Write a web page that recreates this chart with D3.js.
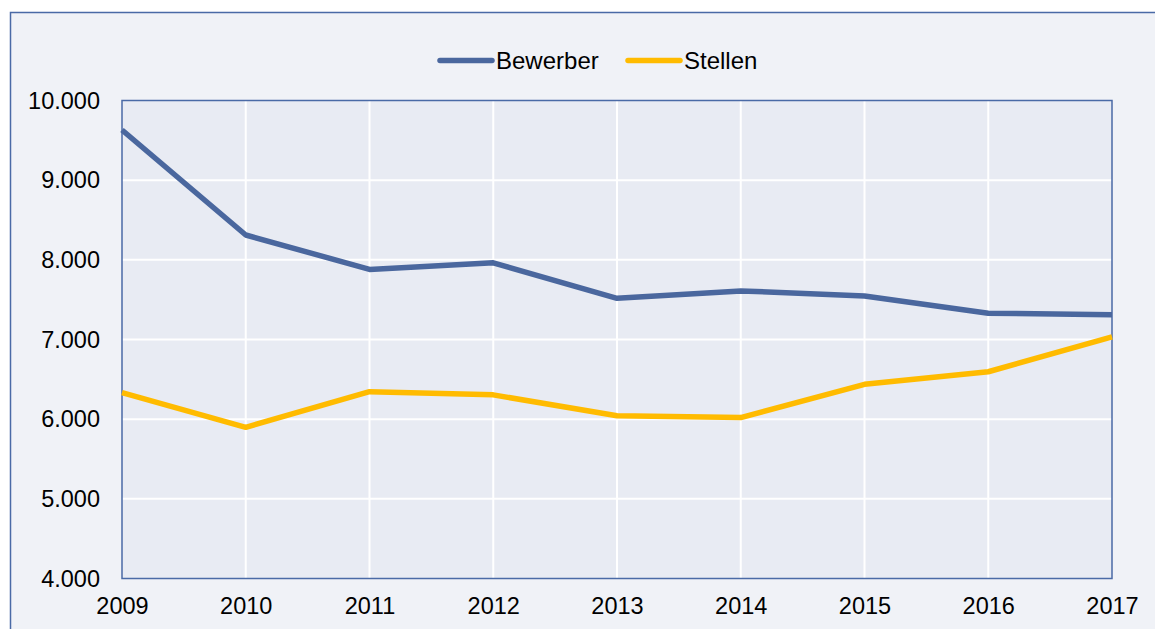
<!DOCTYPE html>
<html>
<head>
<meta charset="utf-8">
<script src="https://cdn.jsdelivr.net/npm/d3@7"></script>
<style>
  html, body { margin: 0; padding: 0; background: #ffffff; }
  svg { display: block; font-family: Arial, "Liberation Sans", sans-serif; }
</style>
</head>
<body>
<svg id="chart" width="1155" height="629"></svg>
<script>
const years = ["2009","2010","2011","2012","2013","2014","2015","2016","2017"];
const bewerber = [9630, 8312, 7880, 7962, 7517, 7610, 7547, 7330, 7310];
const stellen  = [6333, 5898, 6345, 6305, 6042, 6020, 6437, 6595, 7033];
const yTicks = [4000, 5000, 6000, 7000, 8000, 9000, 10000];
const seriesNames = ["Bewerber", "Stellen"];
const seriesColors = ["#4a679e", "#ffbb00"];

(function () {
const svg = d3.select("#chart");
const W = 1155, H = 629;

// outer frame
svg.append("rect").attr("x", 10.5).attr("y", 12.5).attr("width", W + 20).attr("height", H + 20)
  .attr("fill", "#f0f2f7").attr("stroke", "#4a6aa6").attr("stroke-width", 1.5);

const pLeft = 122, pRight = 1112, pTop = 100.5, pBottom = 578.5;

const x = d3.scalePoint().domain(years).range([pLeft, pRight]);
const y = d3.scaleLinear().domain([4000, 10000]).range([pBottom, pTop]);

// plot background
svg.append("rect").attr("x", pLeft).attr("y", pTop).attr("width", pRight - pLeft).attr("height", pBottom - pTop)
  .attr("fill", "#e8ebf3");

// grid
const grid = svg.append("g");
grid.selectAll("line.h").data(yTicks.slice(1, -1)).join("line")
  .attr("x1", pLeft).attr("x2", pRight)
  .attr("y1", d => y(d)).attr("y2", d => y(d))
  .attr("stroke", "#ffffff").attr("stroke-width", 2);
grid.selectAll("line.v").data(years.slice(1, -1)).join("line")
  .attr("x1", d => x(d)).attr("x2", d => x(d))
  .attr("y1", pTop).attr("y2", pBottom)
  .attr("stroke", "#ffffff").attr("stroke-width", 2);

// plot border
svg.append("rect").attr("x", pLeft).attr("y", pTop).attr("width", pRight - pLeft).attr("height", pBottom - pTop)
  .attr("fill", "none").attr("stroke", "#4a6aa6").attr("stroke-width", 1.5);

// axes
const yAxis = d3.axisLeft(y).tickValues(yTicks).tickSize(0).tickPadding(22)
  .tickFormat(d => d3.format(",")(d).replace(/,/g, "."));
const gy = svg.append("g").attr("transform", `translate(${pLeft},0)`).call(yAxis);
gy.select(".domain").remove();
gy.selectAll("text").attr("font-size", 23.5).attr("fill", "#000").attr("font-family", "Arial, 'Liberation Sans', sans-serif");

const xAxis = d3.axisBottom(x).tickSize(0).tickPadding(19);
const gx = svg.append("g").attr("transform", `translate(0,${pBottom})`).call(xAxis);
gx.select(".domain").remove();
gx.selectAll("text").attr("font-size", 23.5).attr("fill", "#000").attr("font-family", "Arial, 'Liberation Sans', sans-serif");

// lines
const line = d3.line().x((d, i) => x(years[i])).y(d => y(d));
[bewerber, stellen].forEach((s, k) => {
  svg.append("path").datum(s).attr("d", line)
    .attr("fill", "none").attr("stroke", seriesColors[k]).attr("stroke-width", 5.5)
    .attr("stroke-linejoin", "round");
});

// legend
const legendItems = [
  { name: seriesNames[0], color: seriesColors[0], x: 440 },
  { name: seriesNames[1], color: seriesColors[1], x: 628 }
];
const lg = svg.append("g");
legendItems.forEach(it => {
  lg.append("line").attr("x1", it.x).attr("x2", it.x + 52).attr("y1", 60.5).attr("y2", 60.5)
    .attr("stroke", it.color).attr("stroke-width", 5.5).attr("stroke-linecap", "round");
  lg.append("text").attr("x", it.x + 56).attr("y", 68.5).attr("font-size", 24).attr("fill", "#000")
    .text(it.name);
});
})();
</script>
</body>
</html>
